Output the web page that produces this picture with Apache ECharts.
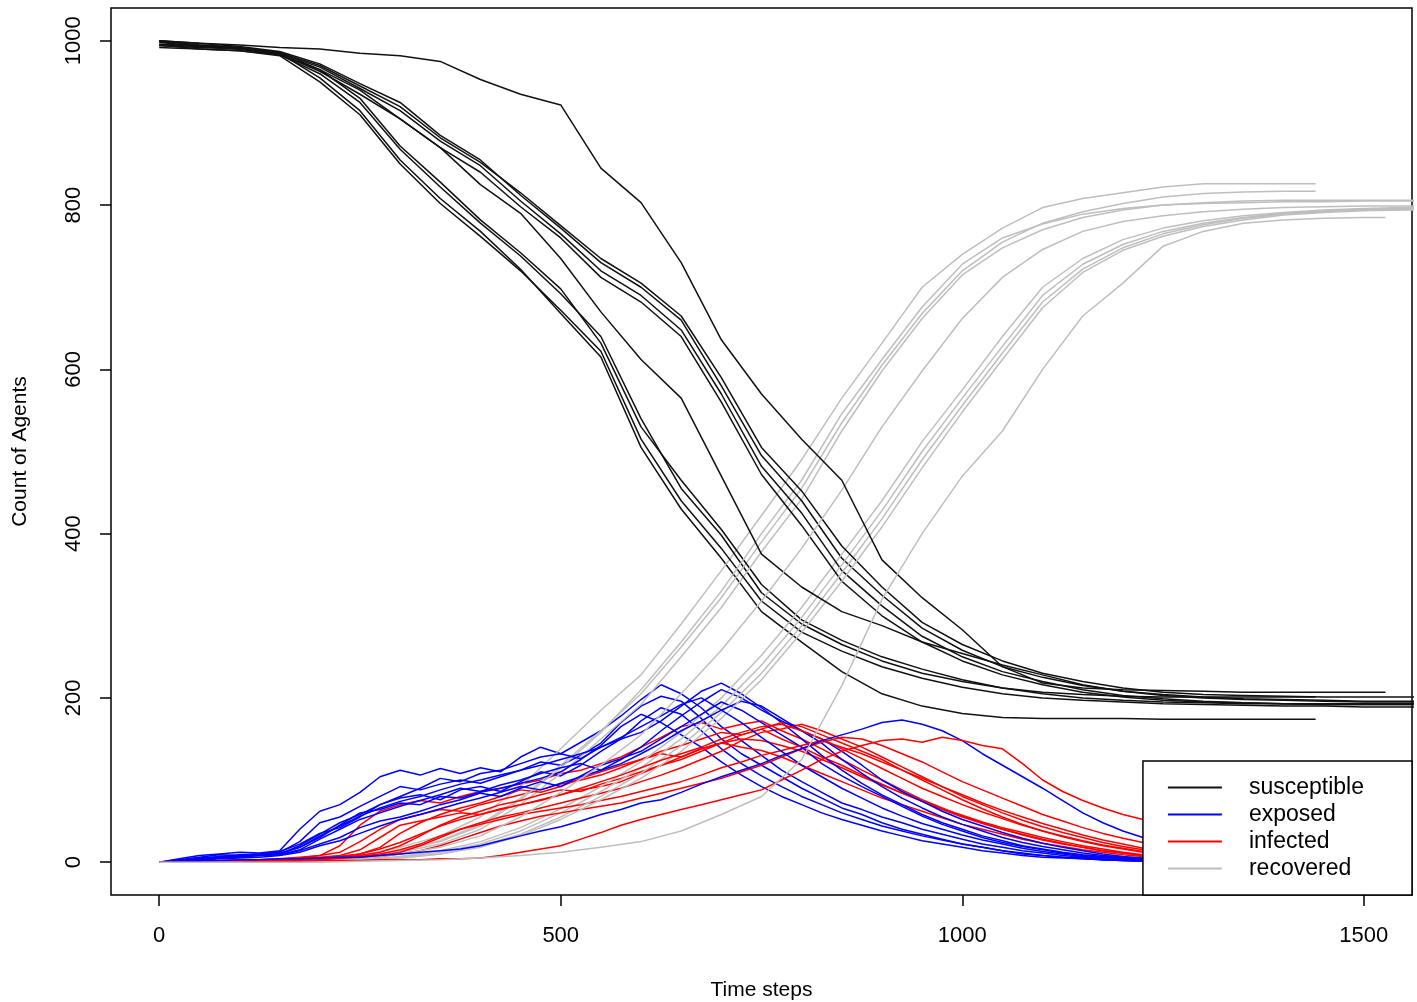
<!DOCTYPE html>
<html>
<head>
<meta charset="utf-8">
<title>SEIR model runs</title>
<script src="https://cdn.jsdelivr.net/npm/echarts@6/dist/echarts.min.js"></script>
<style>
    html, body { margin: 0; padding: 0; background: #fff; }
    #chart { width: 1417px; height: 1002px; }
</style>
</head>
<body>
<div id="chart"></div>
<script>
// axis ticks and legend names
const xTicks = [0, 500, 1000, 1500]
const yTicks = [0, 200, 400, 600, 800, 1000]
const compartments = ['susceptible', 'exposed', 'infected', 'recovered']

// S and R are read every 50 steps, E and I every 25 steps (up to 1250, rest hidden by legend)
const coarseStep = 50
const fineStep = 25
const runEnds = [1440, 1440, 1600, 1600, 1600, 1600, 1600, 1600, 1600, 1527]

const susceptible = [
    [1000,995,992,985,955,915,855,808,768,722,668,615,505,430,370,305,268,232,205,190,181,176,175,175,175,174,174,174,174,174,174,174],
    [995,993,990,983,960,925,868,822,778,738,692,640,540,455,398,328,290,265,245,230,220,212,207,204,202,201,201,201,201,201,201,201],
    [998,994,990,986,965,930,872,828,782,742,698,632,530,465,405,338,295,270,250,235,222,212,205,200,197,195,194,193,193,192,192,192],
    [992,990,988,982,950,910,850,802,762,720,672,622,515,440,382,318,280,257,238,224,213,205,200,197,195,193,192,191,190,190,189,189],
    [1000,997,993,987,972,948,925,885,855,812,772,730,700,660,580,495,440,370,325,285,258,238,225,215,208,204,201,199,198,197,196,196],
    [996,994,991,985,968,942,915,878,848,805,765,720,690,648,570,482,425,355,312,275,250,232,220,210,203,199,196,194,193,192,192,192],
    [994,992,990,984,963,935,905,870,840,798,760,712,682,640,560,472,410,342,300,268,245,228,216,207,201,197,195,194,193,193,193,193],
    [999,995,992,986,970,945,920,882,852,815,775,735,705,665,590,505,452,385,335,292,265,245,230,220,212,207,204,203,202,201,201,201],
    [995,990,988,983,965,940,905,870,825,790,735,670,612,565,470,375,335,305,288,268,254,240,228,216,208,203,200,198,197,196,195,195],
    [1000,997,995,992,990,985,982,975,953,935,922,845,803,730,636,570,515,465,368,322,283,238,218,212,210,209,208,207,207,207,207]
]

const exposed = [
    [0,4,8,10,12,11,14,40,62,70,85,104,112,106,114,108,115,110,128,140,132,146,160,178,198,216,205,188,165,148,130,112,98,85,72,64,55,48,40,34,28,22,18,14,11,8,6,4,3,2,1],
    [0,2,5,7,9,10,12,25,48,55,68,80,92,88,95,100,96,104,112,122,118,130,145,170,190,202,196,175,150,132,118,104,90,78,66,58,48,40,34,28,22,18,14,11,8,6,5,3,2,1,1],
    [0,3,6,9,8,10,13,22,35,42,55,70,78,82,76,88,92,86,98,110,105,118,135,150,172,188,180,160,138,120,105,92,80,70,60,52,44,38,32,27,22,18,14,10,8,6,4,3,2,2,1],
    [0,2,4,6,8,9,10,18,30,45,60,64,72,70,80,78,85,90,96,102,110,125,142,165,180,170,155,140,122,106,92,80,70,60,52,45,38,32,26,22,18,14,11,8,6,5,4,3,2,1,1],
    [0,2,4,6,8,8,10,20,34,48,58,70,80,90,102,98,108,112,120,128,132,126,140,150,158,172,190,208,218,205,188,170,150,130,112,96,82,70,58,48,40,32,26,20,16,12,9,7,5,4,3],
    [0,1,3,5,7,8,9,15,28,40,52,60,68,75,82,90,86,94,100,108,115,120,112,125,140,160,178,195,210,200,185,172,160,145,125,108,92,78,66,55,46,38,30,24,19,15,11,8,6,4,3],
    [0,2,3,5,6,8,9,14,22,30,42,50,55,62,70,76,84,80,90,98,92,105,118,126,135,150,165,180,195,185,170,155,140,120,105,92,80,68,56,46,38,30,24,19,15,11,8,6,5,3,2],
    [0,1,2,4,5,6,8,12,20,26,35,44,52,58,65,72,78,85,92,88,96,104,112,120,132,145,160,172,185,196,190,175,160,150,135,118,100,86,74,62,52,44,36,29,23,18,14,10,7,5,4],
    [0,2,4,6,7,9,11,18,32,44,56,66,74,80,88,95,100,106,112,118,125,132,140,152,165,178,192,200,185,170,152,135,118,104,90,78,66,56,47,40,33,27,22,17,13,10,7,5,4,3,2],
    [0,1,1,2,3,3,4,4,5,6,6,8,10,12,14,16,20,26,32,38,43,50,58,64,72,76,85,95,104,112,120,130,138,148,155,162,170,173,168,160,148,132,118,104,90,75,60,48,38,30,24]
]

const infected = [
    [0,0,1,2,3,3,4,5,8,20,45,62,70,75,72,80,86,90,95,100,108,112,120,128,140,152,165,170,162,168,172,160,150,138,125,112,100,88,76,66,56,48,40,33,27,22,18,14,11,8,6],
    [0,0,0,1,2,3,4,6,8,12,25,40,52,58,64,62,70,76,82,88,95,100,106,115,125,135,142,150,158,155,162,150,140,128,118,106,95,84,74,64,55,47,40,34,28,23,18,14,11,8,6],
    [0,0,1,1,2,2,3,5,6,8,15,30,45,50,55,60,58,65,70,75,82,88,92,98,108,118,128,138,145,150,148,142,135,125,115,104,94,84,74,65,57,49,42,36,30,25,20,16,12,9,7],
    [0,0,0,1,1,2,3,4,5,7,10,18,35,48,58,66,72,80,88,85,92,102,110,118,125,132,128,138,145,140,136,128,118,108,98,88,78,70,62,54,46,40,34,28,23,19,15,12,9,7,5],
    [0,0,0,1,1,2,3,4,5,6,8,12,20,32,45,55,62,70,75,82,88,86,95,102,110,118,125,135,145,155,162,170,165,155,145,135,125,112,100,88,76,65,55,46,38,31,25,20,16,12,9],
    [0,0,0,0,1,1,2,3,4,5,6,8,12,20,30,40,48,55,60,66,72,78,84,90,98,106,115,125,135,148,158,162,168,160,150,140,128,116,104,92,80,70,60,51,43,36,30,24,19,15,12],
    [0,0,0,1,1,1,2,3,4,5,7,10,15,22,32,40,46,52,58,62,66,70,75,80,86,92,98,106,115,122,130,136,142,148,140,132,122,112,102,92,82,72,63,55,47,40,33,27,22,17,13],
    [0,0,0,0,1,1,2,2,3,4,5,7,10,14,20,28,36,44,50,56,60,64,68,72,78,84,90,96,102,110,118,128,138,146,152,150,142,132,122,110,98,88,78,68,58,50,42,35,29,24,19],
    [0,0,0,1,1,2,2,3,5,7,10,16,24,34,44,52,58,64,70,76,82,90,98,106,115,124,132,140,150,158,165,168,160,150,138,126,114,102,90,80,70,61,53,45,38,32,26,21,17,13,10],
    [0,0,0,0,0,1,1,1,2,2,2,3,3,3,4,4,5,8,12,16,20,28,36,45,52,58,64,70,76,82,88,100,112,125,135,142,148,150,146,152,148,142,138,120,100,86,75,66,58,52,46]
]

const recovered = [
    [0,0,0,1,3,8,18,32,55,92,138,185,228,290,355,422,490,565,632,700,740,772,797,808,815,822,826,826,826,826,826,826],
    [0,0,0,1,2,6,14,26,46,78,118,160,205,262,322,390,455,535,605,668,720,755,778,792,802,810,814,816,817,818,818,818],
    [0,0,0,0,2,5,12,22,40,70,108,150,192,250,310,378,442,525,598,662,715,748,770,785,794,800,803,805,806,806,806,806],
    [0,0,0,1,2,6,14,25,44,76,115,158,210,268,330,400,465,546,612,676,728,760,777,789,796,800,802,803,804,804,805,805],
    [0,0,0,0,1,3,7,14,25,42,65,92,122,158,200,252,310,375,440,512,575,640,700,735,758,772,781,787,791,794,796,797],
    [0,0,0,0,1,3,6,12,22,38,60,86,115,150,190,240,298,362,428,500,565,628,690,728,752,768,778,785,790,793,795,796],
    [0,0,0,0,1,2,5,10,20,34,55,80,108,142,182,230,288,352,418,490,556,620,682,722,748,765,776,784,789,792,794,795],
    [0,0,0,0,1,2,5,10,18,32,52,76,102,135,175,222,280,342,408,480,548,612,675,718,745,762,774,782,788,791,793,794],
    [0,0,0,0,1,4,10,18,32,55,85,118,155,205,258,318,382,453,530,598,662,712,746,768,780,787,792,795,797,798,799,799],
    [0,0,0,0,0,1,2,3,5,8,12,18,25,38,58,80,125,215,320,400,470,525,600,665,705,750,768,778,782,784,785]
]

const lineColors = {
    susceptible: '#111111',
    exposed: '#0000ff',
    infected: '#ff0000',
    recovered: '#bebebe'
}
const fontFamily = "'Liberation Sans', Arial, sans-serif"

// turn one run's samples into [time, count] pairs, cut at the run's last step
function toPoints(values, step, end) {
    const pts = []
    for (let i = 0; i < values.length; i++) {
        const t = i * step
        if (t > end) break
        pts.push([t, values[i]])
    }
    const last = pts[pts.length - 1]
    if (last[0] < end) pts.push([end, last[1]])
    return pts
}

function makeSeries(name, pts) {
    return {
        name: name,
        type: 'line',
        data: pts,
        symbol: 'none',
        showSymbol: false,
        silent: true,
        color: lineColors[name],
        lineStyle: { color: lineColors[name], width: 1.5 }
    }
}

const series = []
runEnds.forEach((end, i) => {
    series.push(makeSeries('susceptible', toPoints(susceptible[i], coarseStep, end)))
    series.push(makeSeries('exposed', toPoints(exposed[i], fineStep, Math.min(end, 1250))))
    series.push(makeSeries('infected', toPoints(infected[i], fineStep, Math.min(end, 1250))))
    series.push(makeSeries('recovered', toPoints(recovered[i], coarseStep, end)))
})

const plainNumber = v => String(v)

const options = {
    animation: false,
    backgroundColor: '#fff',
    grid: {
        left: 111, right: 5, top: 8, bottom: 107,
        show: true, borderColor: '#000', borderWidth: 1.5,
        outerBoundsMode: 'none'
    },
    xAxis: {
        type: 'value',
        min: -60, max: 1560,
        name: 'Time steps',
        nameLocation: 'middle',
        nameGap: 85,
        nameTextStyle: { fontFamily, fontSize: 21, color: '#000' },
        axisLine: { show: false, onZero: false },
        splitLine: { show: false },
        axisTick: { show: true, inside: false, length: 11, customValues: xTicks, lineStyle: { color: '#000', width: 1.5 } },
        axisLabel: { customValues: xTicks, margin: 30, fontFamily, fontSize: 22, color: '#000', formatter: plainNumber }
    },
    yAxis: {
        type: 'value',
        min: -40, max: 1040,
        name: 'Count of Agents',
        nameLocation: 'middle',
        nameRotate: 90,
        nameGap: 80,
        nameTextStyle: { fontFamily, fontSize: 21, color: '#000' },
        axisLine: { show: false, onZero: false },
        splitLine: { show: false },
        axisTick: { show: true, inside: false, length: 11, customValues: yTicks, lineStyle: { color: '#000', width: 1.5 } },
        axisLabel: { customValues: yTicks, rotate: 90, margin: 26, fontFamily, fontSize: 22, color: '#000', formatter: plainNumber }
    },
    legend: {
        data: compartments,
        orient: 'vertical',
        right: 5,
        bottom: 107,
        icon: 'rect',
        itemWidth: 54,
        itemHeight: 2,
        itemGap: 4,
        padding: [15, 48, 15, 25],
        backgroundColor: '#fff',
        borderColor: '#000',
        borderWidth: 1.5,
        selectedMode: false,
        textStyle: { fontFamily, fontSize: 23, color: '#000', padding: [0, 0, 0, 22] }
    },
    series: series
}

const chart = echarts.init(document.getElementById('chart'))
chart.setOption(options)
window.addEventListener('resize', () => chart.resize())
</script>
</body>
</html>
